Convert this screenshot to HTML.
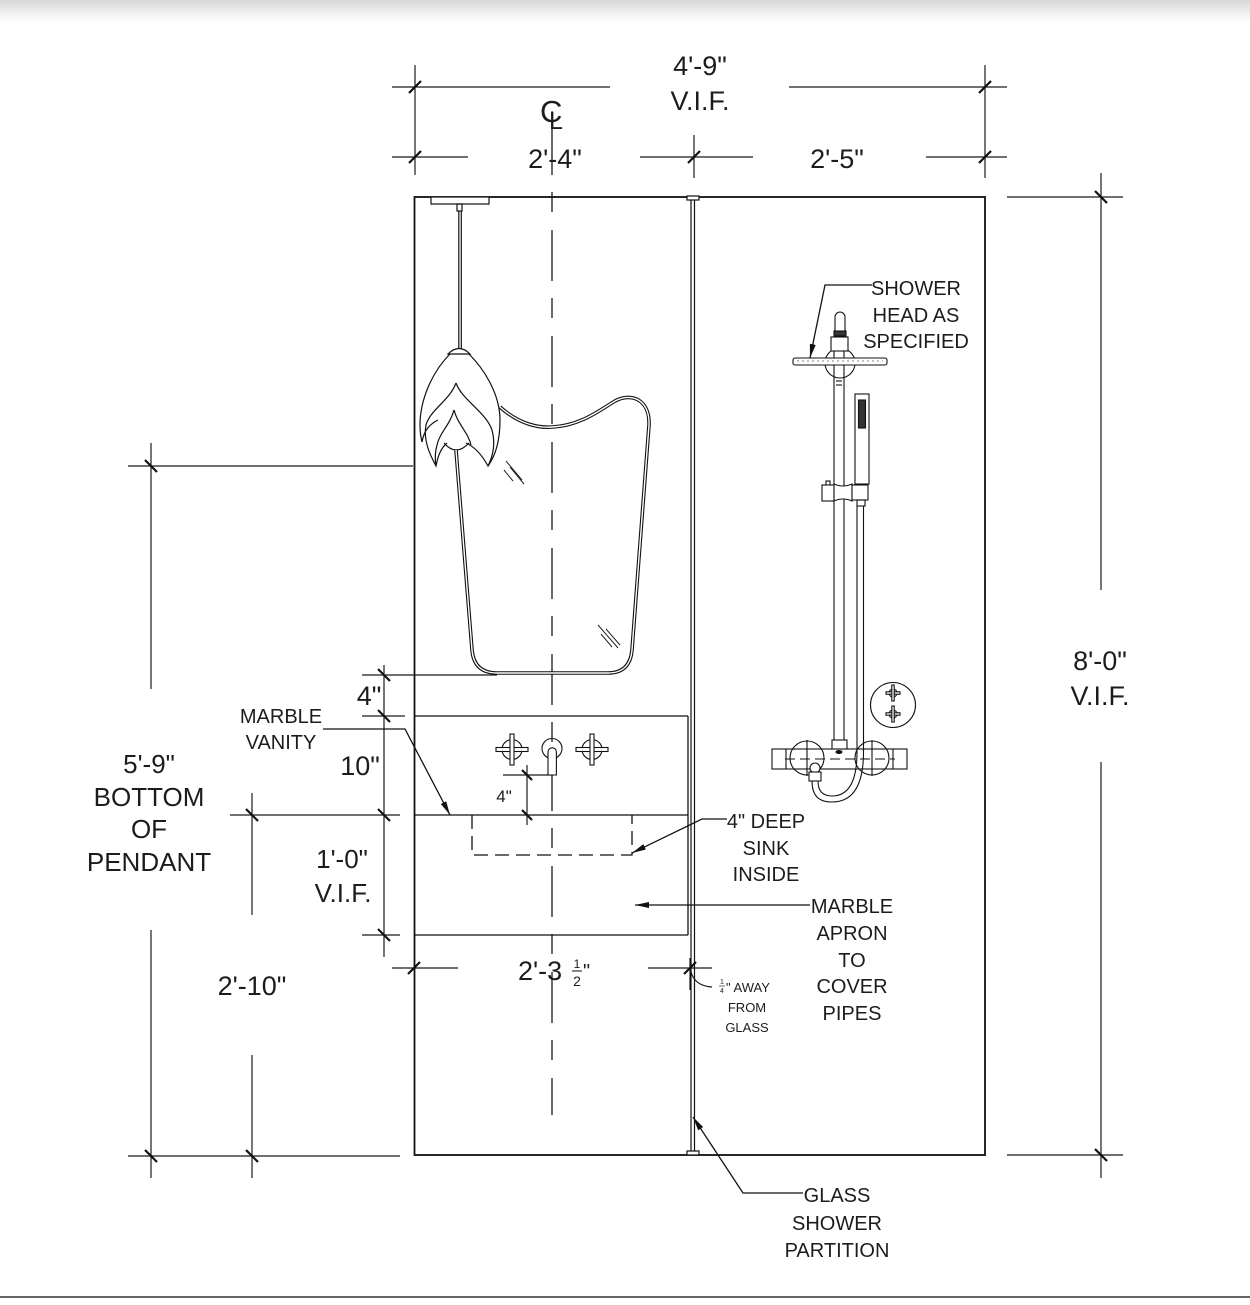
<!DOCTYPE html>
<html><head><meta charset="utf-8"><style>
html,body{margin:0;padding:0;background:#fff;}
svg{display:block;}
text{font-family:"Liberation Sans",sans-serif;fill:#1c1c1c;}
</style></head><body>
<svg width="1250" height="1305" viewBox="0 0 1250 1305" xmlns="http://www.w3.org/2000/svg">
<defs>
<linearGradient id="sh" x1="0" y1="0" x2="0" y2="1"><stop offset="0" stop-color="#d8d8d8"/><stop offset="1" stop-color="#ffffff"/></linearGradient>
<marker id="ar" viewBox="0 0 14 6" refX="14" refY="3" markerWidth="14" markerHeight="6" markerUnits="userSpaceOnUse" orient="auto"><path d="M0 0 L14 3 L0 6 Z" fill="#111"/></marker>
</defs>
<rect x="0" y="0" width="1250" height="22" fill="url(#sh)"/>
<line x1="0" y1="1297" x2="1250" y2="1297" stroke="#333" stroke-width="1.5"/>

<!-- ===== thin dimension lines ===== -->
<g stroke="#1a1a1a" stroke-width="1.2" fill="none">
  <line x1="415" y1="65" x2="415" y2="175"/>
  <line x1="985" y1="65" x2="985" y2="178"/>
  <line x1="694" y1="135" x2="694" y2="178"/>
  <line x1="392" y1="87" x2="610" y2="87"/>
  <line x1="789" y1="87" x2="1007" y2="87"/>
  <line x1="392" y1="157" x2="468" y2="157"/>
  <line x1="640" y1="157" x2="753" y2="157"/>
  <line x1="926" y1="157" x2="1007" y2="157"/>
  <line x1="1101" y1="173" x2="1101" y2="590"/>
  <line x1="1101" y1="762" x2="1101" y2="1178"/>
  <line x1="1007" y1="197" x2="1123" y2="197"/>
  <line x1="1007" y1="1155" x2="1123" y2="1155"/>
  <line x1="128" y1="466" x2="413" y2="466"/>
  <line x1="151" y1="443" x2="151" y2="689"/>
  <line x1="151" y1="930" x2="151" y2="1178"/>
  <line x1="128" y1="1156" x2="400" y2="1156"/>
  <line x1="252" y1="793" x2="252" y2="915"/>
  <line x1="252" y1="1055" x2="252" y2="1178"/>
  <line x1="230" y1="815" x2="400" y2="815"/>
  <line x1="384" y1="665" x2="384" y2="957"/>
  <line x1="362" y1="675" x2="497" y2="675"/>
  <line x1="362" y1="716" x2="405" y2="716"/>
  <line x1="362" y1="935" x2="400" y2="935"/>
  <line x1="503" y1="775" x2="553" y2="775"/>
  <line x1="527" y1="765" x2="527" y2="825"/>
  <line x1="392" y1="968" x2="458" y2="968"/>
  <line x1="648" y1="968" x2="712" y2="968"/>
  <line x1="690" y1="958" x2="690" y2="990"/>
  <path d="M691 972 Q 695 986 712 987"/>
</g>

<!-- ticks -->
<g stroke="#111" stroke-width="2.2" stroke-linecap="butt">
  <line x1="409" y1="93" x2="421" y2="81"/>
  <line x1="979" y1="93" x2="991" y2="81"/>
  <line x1="409" y1="163" x2="421" y2="151"/>
  <line x1="688" y1="163" x2="700" y2="151"/>
  <line x1="979" y1="163" x2="991" y2="151"/>
  <line x1="1095" y1="191" x2="1107" y2="203"/>
  <line x1="1095" y1="1149" x2="1107" y2="1161"/>
  <line x1="145" y1="460" x2="157" y2="472"/>
  <line x1="145" y1="1150" x2="157" y2="1162"/>
  <line x1="246" y1="1150" x2="258" y2="1162"/>
  <line x1="246" y1="809" x2="258" y2="821"/>
  <line x1="378" y1="669" x2="390" y2="681"/>
  <line x1="378" y1="710" x2="390" y2="722"/>
  <line x1="378" y1="809" x2="390" y2="821"/>
  <line x1="378" y1="929" x2="390" y2="941"/>
  <line x1="522" y1="770" x2="532" y2="780"/>
  <line x1="522" y1="810" x2="532" y2="820"/>
  <line x1="408" y1="974" x2="420" y2="962"/>
  <line x1="684" y1="974" x2="696" y2="962"/>
</g>

<!-- centerline -->
<line x1="552" y1="124" x2="552" y2="1115" stroke="#1a1a1a" stroke-width="1.3" stroke-dasharray="51 17 20 18"/>

<!-- main rectangle -->
<rect x="414.5" y="197" width="570.5" height="958" fill="none" stroke="#111" stroke-width="1.8"/>

<!-- vanity -->
<g stroke="#111" stroke-width="1.3" fill="none">
  <line x1="414" y1="716" x2="688" y2="716"/>
  <line x1="688" y1="716" x2="688" y2="935"/>
  <line x1="414" y1="815" x2="688" y2="815"/>
  <line x1="414" y1="935" x2="688" y2="935"/>
  <path d="M472 815 V855 H632 V815" stroke-dasharray="14 7"/>
</g>

<!-- glass partition -->
<g stroke="#111" stroke-width="1.2" fill="#fff">
  <line x1="691" y1="200" x2="691" y2="1151"/>
  <line x1="694.5" y1="200" x2="694.5" y2="1151"/>
  <rect x="687" y="196" width="12" height="4"/>
  <rect x="687" y="1151" width="12" height="4"/>
</g>

<!-- pendant -->
<g stroke="#111" stroke-width="1.2" fill="none">
  <rect x="431" y="197" width="58" height="7" fill="#fff"/>
  <rect x="457" y="204" width="5" height="7"/>
  <line x1="458.8" y1="211" x2="458.8" y2="349"/>
  <line x1="461.3" y1="211" x2="461.3" y2="349"/>
  <path d="M448 354 Q 459 343 470 354 Z"/>
  <path d="M450 354 C 432 372, 420 400, 420 425 C 420 433, 421 438, 422 442"/>
  <path d="M469 354 C 485 370, 500 395, 500 420 C 500 440, 496 455, 488 466"/>
  <path d="M456 383 C 450 400, 430 410, 426 425 C 423 440, 430 455, 436 466 C 438 455, 442 447, 447 443"/>
  <path d="M456 383 C 462 400, 486 412, 492 430 C 496 445, 492 458, 488 466 C 482 455, 475 447, 466 443"/>
  <path d="M454 410 C 450 425, 440 432, 437 445 C 435 452, 435 460, 436 466"/>
  <path d="M454 410 C 458 425, 468 432, 471 445"/>
  <path d="M422 442 C 424 430, 430 424, 438 420"/>
  <path d="M444 443 Q 456 457 469 443"/>
</g>

<!-- mirror (double line) -->
<g fill="none">
  <path d="M500 407 C 520 425, 540 428, 552 427 C 580 426, 600 410, 615 401 C 632 392, 650 400, 649 425 L 632 650 Q 630 673 608 673 L 497 673 Q 474 673 472 650 L 456 450" stroke="#111" stroke-width="3.6"/>
  <path d="M500 407 C 520 425, 540 428, 552 427 C 580 426, 600 410, 615 401 C 632 392, 650 400, 649 425 L 632 650 Q 630 673 608 673 L 497 673 Q 474 673 472 650 L 456 450" stroke="#fff" stroke-width="1.4"/>
</g>
<g stroke="#222" stroke-width="1">
  <line x1="506" y1="461" x2="522" y2="480"/>
  <line x1="510" y1="467" x2="524" y2="484"/>
  <line x1="504" y1="470" x2="513" y2="481"/>
  <line x1="598" y1="625" x2="618" y2="648"/>
  <line x1="601" y1="634" x2="612" y2="647"/>
  <line x1="606" y1="629" x2="620" y2="645"/>
</g>

<!-- faucets -->
<g stroke="#111" stroke-width="1.1" fill="none">
  <circle cx="512" cy="749.5" r="10"/>
  <rect x="496" y="747.5" width="32" height="4" fill="#fff"/>
  <rect x="510" y="734" width="4" height="31" fill="#fff"/>
  <circle cx="592" cy="749.5" r="10"/>
  <rect x="576" y="747.5" width="32" height="4" fill="#fff"/>
  <rect x="590" y="734" width="4" height="31" fill="#fff"/>
  <circle cx="552" cy="748.5" r="10"/>
  <path d="M548 775 L548 752 A4.2 4.2 0 0 1 556.4 752 L556.4 775 Z" fill="#fff"/>
</g>

<!-- shower -->
<g stroke="#111" stroke-width="1.1" fill="none">
  <circle cx="840" cy="363" r="15"/>
  <path d="M835 337 L835 317 A5 5 0 0 1 845 317 L845 337"/>
  <rect x="834" y="331" width="12" height="5" fill="#333"/>
  <rect x="831" y="337" width="17" height="14" fill="#fff"/>
  <line x1="834" y1="351" x2="834" y2="740"/>
  <line x1="844" y1="351" x2="844" y2="740"/>
  <rect x="793" y="358" width="94" height="7" rx="2" fill="#fff"/>
  <line x1="797" y1="361" x2="883" y2="361" stroke-width="0.6" stroke-dasharray="2 3"/>
  <line x1="836" y1="381" x2="842" y2="381"/>
  <line x1="836" y1="385" x2="842" y2="385"/>
  <rect x="855" y="394" width="14" height="90" fill="#fff"/>
  <rect x="858.5" y="400" width="7" height="28" fill="#333"/>
  <rect x="826" y="481" width="4" height="5"/>
  <rect x="822" y="485" width="12" height="16" fill="#fff"/>
  <path d="M834 484 Q 843 488 852 484 L 852 501 Q 843 497 834 501 Z" fill="#fff"/>
  <rect x="852" y="485" width="16" height="15" fill="#fff"/>
  <rect x="857" y="500" width="8" height="6"/>
  <path d="M863.5 506 V752 C 863.5 790, 850 802, 832 802 C 818 802, 812 795, 812 781"/>
  <path d="M857 506 V752 C 857 784, 847 796, 832 796 C 822 796, 818 790, 818 781"/>
  <circle cx="807" cy="758" r="17"/>
  <circle cx="872" cy="758" r="17"/>
  <rect x="772" y="749" width="135" height="20" fill="none"/>
  <line x1="786" y1="749" x2="786" y2="769"/>
  <line x1="893" y1="749" x2="893" y2="769"/>
  <line x1="807" y1="740" x2="807" y2="776"/>
  <line x1="872" y1="740" x2="872" y2="776"/>
  <line x1="785" y1="759" x2="895" y2="759" stroke-dasharray="10 5"/>
  <rect x="832" y="740" width="15" height="9" fill="#fff"/>
  <ellipse cx="839" cy="752" rx="3" ry="1.5" fill="#111"/>
  <circle cx="815" cy="768" r="5" fill="#fff"/>
  <rect x="809" y="772" width="12" height="9" fill="#fff"/>
  <circle cx="893" cy="705" r="22.5"/>
  <circle cx="893" cy="693" r="4"/>
  <rect x="886" y="691.8" width="14" height="2.4" fill="#fff"/>
  <rect x="891.8" y="685" width="2.4" height="16" fill="#fff"/>
  <circle cx="893" cy="714" r="4"/>
  <rect x="886" y="712.8" width="14" height="2.4" fill="#fff"/>
  <rect x="891.8" y="706" width="2.4" height="16" fill="#fff"/>
</g>

<!-- leaders with arrows -->
<g stroke="#111" stroke-width="1.3" fill="none" marker-end="url(#ar)">
  <polyline points="872,285 825,285 810,358"/>
  <polyline points="323,729 405,729 450,815"/>
  <polyline points="727,819 702,819 632,853"/>
  <polyline points="810,905 635,905"/>
  <polyline points="803,1193 743,1193 693,1117"/>
</g>

<!-- CL symbol -->
<text x="540" y="122" font-size="31">C</text>
<text x="549" y="129" font-size="25">L</text>

<!-- texts -->
<g text-anchor="middle">
  <text x="700" y="75" font-size="27">4'-9"</text>
  <text x="700" y="110" font-size="27">V.I.F.</text>
  <text x="555" y="168" font-size="27">2'-4"</text>
  <text x="837" y="168" font-size="27">2'-5"</text>
  <text x="1100" y="670" font-size="27">8'-0"</text>
  <text x="1100" y="705" font-size="27">V.I.F.</text>

  <text x="916" y="295" font-size="20">SHOWER</text>
  <text x="916" y="322" font-size="20">HEAD AS</text>
  <text x="916" y="348" font-size="20">SPECIFIED</text>

  <text x="281" y="723" font-size="20">MARBLE</text>
  <text x="281" y="749" font-size="20">VANITY</text>

  <text x="369" y="705" font-size="27">4"</text>
  <text x="360" y="775" font-size="27">10"</text>
  <text x="504" y="802" font-size="17">4"</text>

  <text x="149" y="773" font-size="26">5'-9"</text>
  <text x="149" y="806" font-size="26">BOTTOM</text>
  <text x="149" y="838" font-size="26">OF</text>
  <text x="149" y="871" font-size="26">PENDANT</text>

  <text x="342" y="868" font-size="26">1'-0"</text>
  <text x="343" y="902" font-size="26">V.I.F.</text>

  <text x="766" y="828" font-size="20">4" DEEP</text>
  <text x="766" y="855" font-size="20">SINK</text>
  <text x="766" y="881" font-size="20">INSIDE</text>

  <text x="852" y="913" font-size="20">MARBLE</text>
  <text x="852" y="940" font-size="20">APRON</text>
  <text x="852" y="967" font-size="20">TO</text>
  <text x="852" y="993" font-size="20">COVER</text>
  <text x="852" y="1020" font-size="20">PIPES</text>

  <text x="252" y="995" font-size="27">2'-10"</text>

  <text x="747" y="1012" font-size="13">FROM</text>
  <text x="747" y="1032" font-size="13">GLASS</text>

  <text x="837" y="1202" font-size="20">GLASS</text>
  <text x="837" y="1230" font-size="20">SHOWER</text>
  <text x="837" y="1257" font-size="20">PARTITION</text>
</g>

<!-- 2'-3 1/2" -->
<text x="518" y="980" font-size="27">2'-3</text>
<text x="577" y="968" font-size="12" text-anchor="middle">1</text>
<line x1="572" y1="971" x2="582" y2="971" stroke="#111" stroke-width="1"/>
<text x="577" y="986" font-size="14" text-anchor="middle">2</text>
<text x="583" y="978" font-size="20">"</text>

<!-- 1/4" AWAY -->
<text x="722" y="984" font-size="7" text-anchor="middle">1</text>
<line x1="719" y1="986" x2="725" y2="986" stroke="#111" stroke-width="0.6"/>
<text x="722" y="993" font-size="7" text-anchor="middle">4</text>
<text x="726" y="992" font-size="13">" AWAY</text>
</svg>
</body></html>
